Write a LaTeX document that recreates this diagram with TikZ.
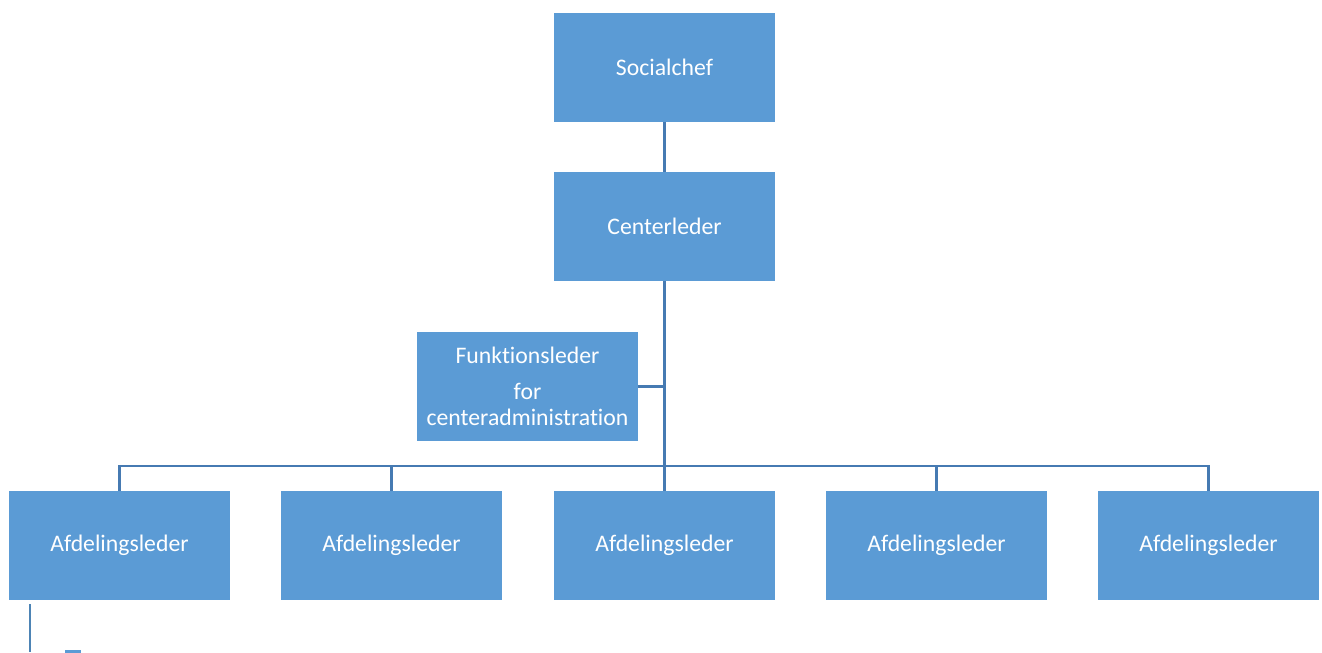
\documentclass[tikz,border=0pt]{standalone}
\usepackage{fontspec}
\setmainfont{Carlito}[Ligatures=NoCommon]
\usetikzlibrary{positioning}
\definecolor{boxblue}{RGB}{91,155,213}
\definecolor{lineblue}{RGB}{70,122,178}
\tikzset{every node/.style={font=\fontsize{13.5}{14.7}\selectfont, text=white}}
\tikzset{unit/.style={rectangle, fill=boxblue, minimum width=4.42cm, minimum height=2.18cm, inner sep=0pt, align=center}}
\tikzset{link/.style={draw=lineblue, line width=1.6pt}}

\begin{document}
\begin{tikzpicture}
\clip (0,0) rectangle (26.44,-13.04);
\node[unit] (chef) at (13.29,-1.35) {Socialchef};
\node[unit] (center) at (13.29,-4.53) {Centerleder};
\node[unit] (funk) at (10.55,-7.73) {Funktionsleder\\[5.7pt]for\\centeradministration};
\node[unit] (afd1) at (2.39,-10.91) {Afdelingsleder};
\node[unit] (afd2) at (7.83,-10.91) {Afdelingsleder};
\node[unit] (afd3) at (13.29,-10.91) {Afdelingsleder};
\node[unit] (afd4) at (18.73,-10.91) {Afdelingsleder};
\node[unit] (afd5) at (24.17,-10.91) {Afdelingsleder};
\node[unit, minimum width=0.32cm, minimum height=0.3cm] (next) at (1.46,-13.15) {};
\coordinate (bus) at (13.29,-9.32);
\coordinate (sub) at (0.6,-13.04);
% connectors
\draw[link] (chef.south) -- (center.north);
\draw[link] (center.south) -- (bus);
\draw[link] (funk.east) -- (funk.east -| center.south);
\foreach \n in {afd1,afd2,afd3,afd4,afd5}
    \draw[link] (bus) -| (\n.north);
\draw[link, draw=boxblue!85!black] ([yshift=-0.08cm]afd1.south -| sub) -- (sub);
\end{tikzpicture}
\end{document}
